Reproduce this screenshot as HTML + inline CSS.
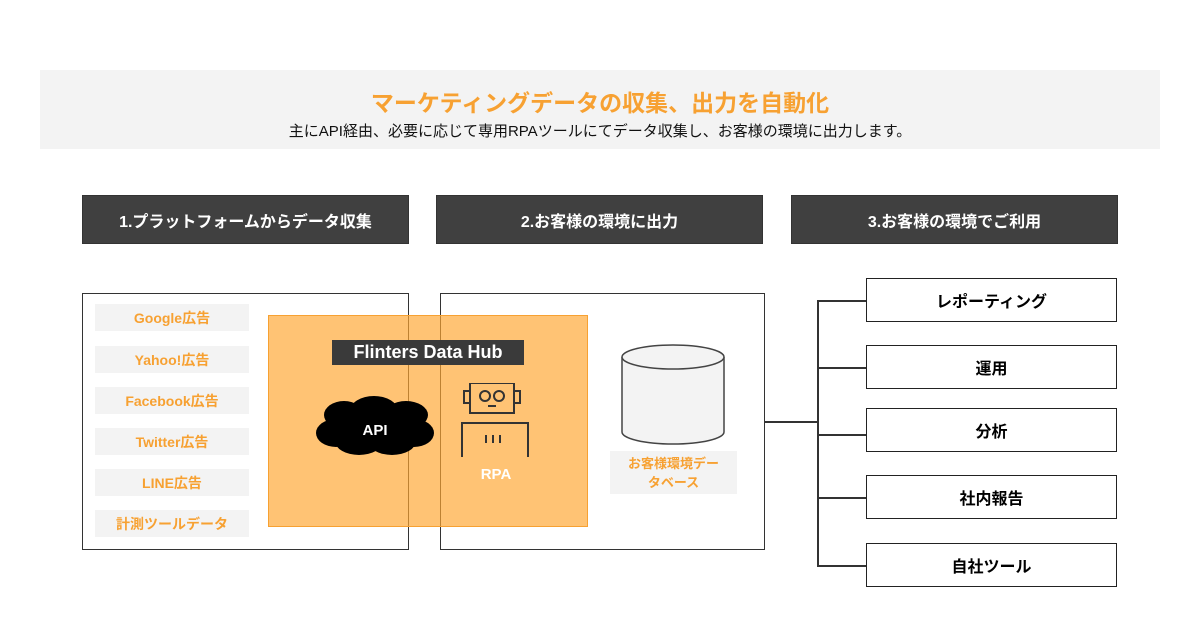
<!DOCTYPE html>
<html><head><meta charset="utf-8"><style>
*{margin:0;padding:0;box-sizing:border-box}
body{width:1200px;height:630px;background:#fff;position:relative;overflow:hidden;font-family:"Liberation Sans","Noto Sans CJK JP",sans-serif}
.a{position:absolute}
.hd{background:#404040;color:#fff;font-weight:bold;font-size:16px;display:flex;align-items:center;justify-content:center;border:1px solid #333}
.it{background:#f3f3f3;color:#f7a132;font-weight:bold;font-size:14px;display:flex;align-items:center;justify-content:center;left:95px;width:154px;height:27px}
.rb{left:866px;width:251px;border:1.5px solid #222;background:#fff;font-weight:bold;font-size:16px;display:flex;align-items:center;justify-content:center;height:44px}
.ln{background:#333}
</style></head><body>
<div class="a" style="left:40px;top:70px;width:1120px;height:79px;background:#f3f3f3"></div>
<div class="a" style="left:0;width:1200px;top:84px;text-align:center;color:#f7a132;font-weight:bold;font-size:23px">マーケティングデータの収集、出力を自動化</div>
<div class="a" style="left:0;width:1200px;top:120px;text-align:center;color:#111;font-size:15px">主にAPI経由、必要に応じて専用RPAツールにてデータ収集し、お客様の環境に出力します。</div>
<div class="a hd" style="left:82px;top:195px;width:327px;height:49px">1.プラットフォームからデータ収集</div>
<div class="a hd" style="left:436px;top:195px;width:327px;height:49px">2.お客様の環境に出力</div>
<div class="a hd" style="left:791px;top:195px;width:327px;height:49px">3.お客様の環境でご利用</div>
<div class="a" style="left:82px;top:293px;width:327px;height:257px;border:1.5px solid #333"></div>
<div class="a" style="left:440px;top:293px;width:325px;height:257px;border:1.5px solid #333"></div>
<div class="a it" style="top:304px">Google広告</div>
<div class="a it" style="top:346px">Yahoo!広告</div>
<div class="a it" style="top:387px">Facebook広告</div>
<div class="a it" style="top:428px">Twitter広告</div>
<div class="a it" style="top:469px">LINE広告</div>
<div class="a it" style="top:510px">計測ツールデータ</div>
<div class="a" style="left:268px;top:315px;width:320px;height:212px;background:rgba(255,167,50,0.68);border:1px solid #f7a132"></div>
<div class="a" style="left:332px;top:340px;width:192px;height:25px;background:#3a3a3a;color:#fff;font-weight:bold;font-size:18px;text-align:center;line-height:25px">Flinters Data Hub</div>
<svg class="a" style="left:314px;top:395px" width="122" height="62" viewBox="0 0 122 62">
<g fill="#000"><ellipse cx="30" cy="20" rx="20" ry="14"/><ellipse cx="60" cy="16" rx="24" ry="15"/><ellipse cx="92" cy="20" rx="22" ry="14"/><ellipse cx="22" cy="38" rx="20" ry="14"/><ellipse cx="100" cy="38" rx="20" ry="14"/><ellipse cx="45" cy="46" rx="24" ry="14"/><ellipse cx="78" cy="46" rx="24" ry="14"/><ellipse cx="60" cy="32" rx="45" ry="20"/></g>
<text x="61" y="40" fill="#fff" font-weight="bold" font-size="15" text-anchor="middle" font-family="Liberation Sans">API</text></svg>
<svg class="a" style="left:460px;top:383px" width="72" height="75" viewBox="0 0 72 75" fill="none" stroke="#333" stroke-width="2">
<rect x="10" y="0" width="44" height="30"/><rect x="4" y="8" width="6" height="12"/><rect x="54" y="8" width="6" height="12"/>
<circle cx="25" cy="13" r="5"/><circle cx="39" cy="13" r="5"/><line x1="28" y1="23" x2="36" y2="23"/>
<polyline points="2,74 2,40 68,40 68,74"/><line x1="26" y1="52" x2="26" y2="60"/><line x1="33" y1="52" x2="33" y2="60"/><line x1="40" y1="52" x2="40" y2="60"/></svg>
<div class="a" style="left:460px;top:466px;width:72px;text-align:center;color:#fff;font-weight:bold;font-size:15px">RPA</div>
<svg class="a" style="left:620px;top:343px" width="108" height="106" viewBox="0 0 108 106">
<path d="M2 14 L2 89 A51 12 0 0 0 104 89 L104 14" fill="#f3f3f3" stroke="#444" stroke-width="1.5"/>
<ellipse cx="53" cy="14" rx="51" ry="12" fill="#f3f3f3" stroke="#444" stroke-width="1.5"/></svg>
<div class="a" style="left:610px;top:451px;width:127px;height:43px;background:#f3f3f3;color:#f7a132;font-size:13px;font-weight:bold;text-align:center;line-height:19px;padding-top:3px">お客様環境デー<br>タベース</div>
<div class="a ln" style="left:765px;top:421px;width:53px;height:1.5px"></div>
<div class="a ln" style="left:817px;top:300px;width:1.5px;height:266px"></div>
<div class="a ln" style="left:817px;top:300px;width:49px;height:1.5px"></div>
<div class="a ln" style="left:817px;top:367px;width:49px;height:1.5px"></div>
<div class="a ln" style="left:817px;top:434px;width:49px;height:1.5px"></div>
<div class="a ln" style="left:817px;top:497px;width:49px;height:1.5px"></div>
<div class="a ln" style="left:817px;top:565px;width:49px;height:1.5px"></div>
<div class="a rb" style="top:278px">レポーティング</div>
<div class="a rb" style="top:345px">運用</div>
<div class="a rb" style="top:408px">分析</div>
<div class="a rb" style="top:475px">社内報告</div>
<div class="a rb" style="top:543px">自社ツール</div>
</body></html>
